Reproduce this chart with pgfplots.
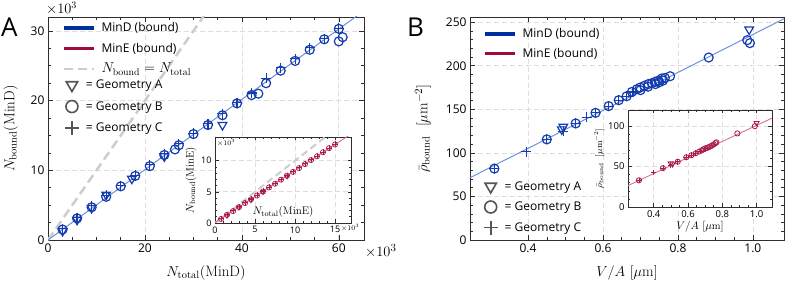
\documentclass[border=0pt]{standalone}
\usepackage{pgfplots}
\pgfplotsset{compat=1.18}
\usepackage{fontspec}
\newfontfamily\osans{Open Sans}
\definecolor{mind}{RGB}{0,48,160}
\definecolor{mindmk}{RGB}{20,60,175}
\definecolor{mindln}{RGB}{110,145,220}
\definecolor{mine}{RGB}{160,10,60}
\definecolor{minemk}{RGB}{170,25,75}
\definecolor{mineln}{RGB}{215,115,145}
\definecolor{leg}{RGB}{85,85,85}
\definecolor{gridc}{RGB}{222,222,222}
\definecolor{dashc}{RGB}{205,205,205}
\definecolor{frm}{RGB}{45,45,45}
\pgfplotsset{
  base/.style={scale only axis, anchor=south west,
    axis line style={frm, line width=0.9pt},
    tick style={frm, line width=0.6pt},
    tick align=inside,
    major tick length=5pt, minor tick length=3pt,
    grid=major,
    major grid style={gridc, dash pattern=on 5pt off 3pt, line width=0.7pt},
    scaled ticks=false,
    /pgf/number format/assume math mode=true,
    axis background/.style={fill=white},
  },
  legax/.style={scale only axis, anchor=south west, hide axis, xmin=0, xmax=1, ymin=0, ymax=1,
    legend cell align=left},
}
\newcommand{\bigfont}{\fontsize{15}{18}\selectfont}
\begin{document}
\begin{tikzpicture}
\path[use as bounding box] (0,0) rectangle (790pt,289pt);
% ================= Panel A main =================
\begin{axis}[base, at={(48pt,49pt)}, width=316pt, height=223pt,
  xmin=0, xmax=65.2, ymin=0, ymax=32,
  xtick={0,20,40,60}, ytick={0,10,20,30},
  minor x tick num=3, minor y tick num=3,
  tick label style={font=\osans\fontsize{12}{14}\selectfont},
  xlabel={\bigfont$N_{\mathrm{total}}(\mathrm{MinD})$},
  ylabel={\bigfont$N_{\mathrm{bound}}(\mathrm{MinD})$},
  xlabel shift=6pt, ylabel shift=6pt,
]
\addplot[dashc, line width=2.5pt, dash pattern=on 9pt off 5pt] coordinates {(0,0) (34,34)};
\addplot[mindln, line width=1pt] coordinates {(0,0) (66,33.3)};
\addplot[mindmk, only marks, mark=triangle, mark size=5pt, mark options={rotate=180, line width=1.2pt, fill=none}] coordinates {
(3,1.3) (6,2.9) (9,4.6) (12,6.5) (17.3,8.8) (24,12.0) (36,16.5)};
\addplot[mindmk, only marks, mark=o, mark size=4.5pt, mark options={line width=1.2pt}] coordinates {
(3,1.5) (6,3.1) (9,4.7) (12,6.2) (15,7.7) (18,9.2) (21,10.6) (24,12.2) (26.2,13.0) (27,13.6)
(30,15.2) (33,16.5) (36,17.9) (39,19.6) (42,20.8) (43.4,21.0) (45,22.5) (48,24.3) (51,25.7)
(54,27.3) (57,28.8) (60,30.3) (60,28.5) (60.8,29.1)};
\addplot[mindmk, only marks, mark=+, mark size=5pt, mark options={line width=1.2pt}] coordinates {
(3,1.6) (6,3.2) (9,4.9) (12,6.4) (15,7.8) (18,9.3) (21,10.8) (24,12.4) (27,13.8) (30,15.3)
(33,16.7) (36,18.1) (39,19.7) (42,21.1) (45,23.2) (48,24.7) (51,26.0) (54,27.6) (57,28.9) (60,30.4)};
\end{axis}
% ================= Panel A inset =================
\begin{axis}[base, at={(215pt,66pt)}, width=136pt, height=86pt,
  xmin=0, xmax=17, ymin=0, ymax=13.8,
  xtick={0,5,10,15}, ytick={0,5,10}, minor x tick num=4, minor y tick num=4,
  tick label style={font=\osans\fontsize{9}{11}\selectfont},
  major tick length=3.5pt, minor tick length=2pt,
  xlabel={\fontsize{11}{13}\selectfont$N_{\mathrm{total}}(\mathrm{MinE})$},
  xlabel style={at={(axis description cs:0.5,0)}, anchor=south, yshift=2pt},
  ylabel={\fontsize{11}{13}\selectfont$N_{\mathrm{bound}}(\mathrm{MinE})$},
  ylabel style={yshift=-2pt},
]
\addplot[dashc, line width=2pt, dash pattern=on 7pt off 4pt] coordinates {(0,0) (15,15)};
\addplot[mineln, line width=0.9pt] coordinates {(0,0.06) (17,14.27)};
\addplot[minemk, only marks, mark=o, mark size=2.6pt, mark options={line width=0.7pt}] coordinates {
(0.75,0.65) (1.5,1.3) (2.25,1.9) (3.0,2.55) (3.75,3.2) (4.5,3.8) (5.25,4.4) (6.0,5.05) (6.75,5.7) (7.5,6.3)
(8.25,6.95) (9.0,7.6) (9.75,8.2) (10.5,8.8) (11.25,9.45) (12.0,10.1) (12.75,10.7) (13.5,11.35) (14.25,12.0) (15.0,12.6)};
\addplot[minemk, only marks, mark=+, mark size=2.8pt, mark options={line width=0.7pt}] coordinates {
(0.75,0.7) (1.5,1.35) (2.25,1.95) (3.0,2.6) (3.75,3.25) (4.5,3.85) (5.25,4.45) (6.0,5.1) (6.75,5.75) (7.5,6.35)
(8.25,7.0) (9.0,7.65) (9.75,8.25) (10.5,8.85) (11.25,9.5) (12.0,10.15) (12.75,10.75) (13.5,11.4) (14.25,12.05) (15.0,12.7)};
\addplot[minemk, only marks, mark=triangle, mark size=2.8pt, mark options={rotate=180, line width=0.7pt, fill=none}] coordinates {
(1.5,1.2) (3.0,2.5) (4.5,3.7) (6.0,5.0) (9.0,7.5)};
\end{axis}
% ================= Panel B main =================
\begin{axis}[base, at={(470pt,49pt)}, width=314pt, height=223pt,
  xmin=0.245, xmax=1.083, ymin=0, ymax=256,
  xtick={0.4,0.6,0.8,1.0}, xticklabels={0.4,0.6,0.8,1.0}, ytick={0,50,100,150,200,250},
  minor x tick num=3, minor y tick num=4,
  tick label style={font=\osans\fontsize{12}{14}\selectfont},
  xlabel={\bigfont$V/A\ [\mu\mathrm{m}]$},
  ylabel={\bigfont$\bar{\rho}_{\mathrm{bound}}\ \ [\mu\mathrm{m}^{-2}]$},
  xlabel shift=6pt, ylabel shift=8pt,
]
\addplot[mindln, line width=1pt] coordinates {(0.2,61.66) (1.1,257.7)};
\addplot[mindmk, only marks, mark=triangle, mark size=5pt, mark options={rotate=180, line width=1.2pt, fill=none}] coordinates {
(0.494,130) (0.49,127) (0.99,241.6)};
\addplot[mindmk, only marks, mark=o, mark size=4.5pt, mark options={line width=1.2pt}] coordinates {
(0.31,82) (0.45,115.5) (0.527,133.8) (0.58,146) (0.615,153.7) (0.642,160.5) (0.663,165) (0.677,170)
(0.69,173) (0.699,175) (0.70,172) (0.71,177) (0.72,176) (0.721,179) (0.73,180) (0.739,181.6) (0.74,179)
(0.748,183) (0.75,181) (0.757,185.4) (0.76,183) (0.765,186) (0.779,188) (0.882,209.5) (0.985,229.4) (0.992,226)};
\addplot[mindmk, only marks, mark=+, mark size=5pt, mark options={line width=1.2pt}] coordinates {
(0.31,82) (0.395,101.3) (0.45,115.5) (0.494,125) (0.527,133.8) (0.556,140.7) (0.58,146) (0.615,153.7)
(0.642,160.5) (0.663,165) (0.68,170)};
\end{axis}
% ================= Panel B inset =================
\begin{axis}[base, at={(628pt,82pt)}, width=144pt, height=97pt,
  xmin=0.25, xmax=1.09, ymin=0, ymax=120,
  xtick={0.4,0.6,0.8,1.0}, xticklabels={0.4,0.6,0.8,1.0}, ytick={0,50,100},
  minor x tick num=3, minor y tick num=4,
  tick label style={font=\osans\fontsize{9.5}{11}\selectfont},
  major tick length=3.5pt, minor tick length=2pt,
  xlabel={\fontsize{10.5}{12}\selectfont$V/A\ [\mu\mathrm{m}]$},
  ylabel={\fontsize{9}{11}\selectfont$\bar{\rho}_{\mathrm{bound}}\ \ [\mu\mathrm{m}^{-2}]$},
  xlabel style={yshift=3pt}, ylabel style={yshift=-3pt},
]
\addplot[mineln, line width=0.9pt] coordinates {(0.2,21.5) (1.1,110.9)};
\addplot[minemk, only marks, mark=triangle, mark size=3pt, mark options={rotate=180, line width=0.8pt, fill=none}] coordinates {
(0.499,54) (0.51,53) (1.0,104)};
\addplot[minemk, only marks, mark=o, mark size=2.6pt, mark options={line width=0.8pt}] coordinates {
(0.314,33) (0.454,48) (0.54,56) (0.59,61.5) (0.62,64) (0.645,66.5) (0.665,68.5) (0.68,70) (0.69,71.5)
(0.70,72.5) (0.71,73) (0.72,74) (0.73,75) (0.74,76) (0.75,77.5) (0.76,79) (0.766,80) (0.888,91) (0.99,100)};
\addplot[minemk, only marks, mark=+, mark size=2.8pt, mark options={line width=0.8pt}] coordinates {
(0.314,33) (0.398,42.6) (0.454,48) (0.5,52) (0.54,56) (0.59,61.5) (0.62,64) (0.645,66.5) (0.67,69) (0.70,72)};
\end{axis}
% ================= Legends =================
\begin{axis}[legax, at={(48pt,49pt)}, width=316pt, height=223pt,
  legend style={draw=none, fill=none, at={(axis description cs:0.044,0.99)}, anchor=north west,
    inner sep=0pt, row sep=3pt, column sep=4pt, font=\osans\fontsize{12}{14}\selectfont,
    nodes={text height=10.5pt, text depth=3pt}},
  legend image code/.code={\draw[#1] (0pt,0pt) -- (30pt,0pt);}]
\addlegendimage{mind, line width=3.5pt}
\addlegendentry{MinD (bound)}
\addlegendimage{mine, line width=3.5pt}
\addlegendentry{MinE (bound)}
\addlegendimage{dashc, line width=2.5pt, dash pattern=on 9pt off 5pt}
\addlegendentry{\fontsize{14}{16}\selectfont$N_{\mathrm{bound}}=N_{\mathrm{total}}$}
\end{axis}
\begin{axis}[legax, at={(48pt,49pt)}, width=316pt, height=223pt,
  legend style={draw=none, fill=none, at={(axis description cs:0.053,0.735)}, anchor=north west,
    inner sep=0pt, row sep=4pt, column sep=5pt, font=\osans\fontsize{12}{14}\selectfont,
    nodes={text height=10.5pt, text depth=3pt}},
  legend image code/.code={\draw[#1] plot coordinates {(0pt,0pt)};}]
\addlegendimage{leg, only marks, mark=triangle, mark size=6.5pt, mark options={rotate=180, line width=1.6pt, fill=none}}
\addlegendentry{= Geometry A}
\addlegendimage{leg, only marks, mark=o, mark size=6pt, mark options={line width=1.6pt}}
\addlegendentry{= Geometry B}
\addlegendimage{leg, only marks, mark=+, mark size=7pt, mark options={line width=1.6pt}}
\addlegendentry{= Geometry C}
\end{axis}
\begin{axis}[legax, at={(470pt,49pt)}, width=314pt, height=223pt,
  legend style={draw=none, fill=none, at={(axis description cs:0.041,0.965)}, anchor=north west,
    inner sep=0pt, row sep=2pt, column sep=4pt, font=\osans\fontsize{12}{14}\selectfont,
    nodes={text height=10.5pt, text depth=3pt}},
  legend image code/.code={\draw[#1] (0pt,0pt) -- (30pt,0pt);}]
\addlegendimage{mind, line width=3.5pt}
\addlegendentry{MinD (bound)}
\addlegendimage{mine, line width=3.5pt}
\addlegendentry{MinE (bound)}
\end{axis}
\begin{axis}[legax, at={(470pt,49pt)}, width=314pt, height=223pt,
  legend style={draw=none, fill=none, at={(axis description cs:0.043,0.28)}, anchor=north west,
    inner sep=0pt, row sep=3pt, column sep=5pt, font=\osans\fontsize{12}{14}\selectfont,
    nodes={text height=10.5pt, text depth=3pt}},
  legend image code/.code={\draw[#1] plot coordinates {(0pt,0pt)};}]
\addlegendimage{leg, only marks, mark=triangle, mark size=6.5pt, mark options={rotate=180, line width=1.6pt, fill=none}}
\addlegendentry{= Geometry A}
\addlegendimage{leg, only marks, mark=o, mark size=6pt, mark options={line width=1.6pt}}
\addlegendentry{= Geometry B}
\addlegendimage{leg, only marks, mark=+, mark size=7pt, mark options={line width=1.6pt}}
\addlegendentry{= Geometry C}
\end{axis}
% ================= Annotations =================
\node[anchor=base west, inner sep=0pt, font=\osans\fontsize{26}{30}\selectfont] at (1pt,252pt) {A};
\node[anchor=base west, inner sep=0pt, font=\osans\fontsize{26}{30}\selectfont] at (407pt,252pt) {B};
\node[anchor=west, inner sep=0pt, font=\fontsize{14}{16}\selectfont] at (46pt,281pt) {$\times10^3$};
\node[anchor=west, inner sep=0pt, font=\fontsize{15}{17}\selectfont] at (365pt,38pt) {$\times10^3$};
\node[anchor=north west, inner sep=1pt, font=\fontsize{7.5}{9}\selectfont] at (216pt,151pt) {$\times10^3$};
\node[anchor=west, inner sep=0pt, font=\fontsize{7.5}{9}\selectfont] at (341pt,61pt) {$\times10^3$};
\end{tikzpicture}
\end{document}
